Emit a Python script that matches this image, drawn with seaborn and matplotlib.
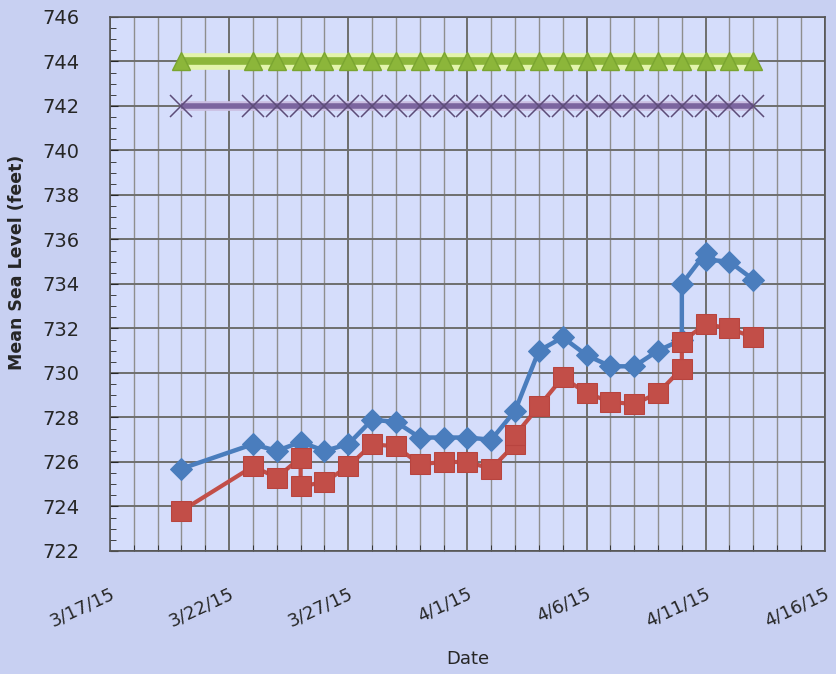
import matplotlib
matplotlib.use('Agg')
import matplotlib.pyplot as plt
import matplotlib.ticker as mticker
import pandas as pd
import seaborn as sns

# lake level readings (feet)
blue_dates = ['3/20', '3/23', '3/24', '3/25', '3/26', '3/27', '3/28', '3/29',
              '3/30', '3/31', '4/1', '4/2', '4/3', '4/4', '4/5', '4/6', '4/7',
              '4/8', '4/9', '4/10', '4/10', '4/11', '4/11', '4/12', '4/13']
blue_level = [725.7, 726.8, 726.5, 726.9, 726.5, 726.8, 727.9, 727.8,
              727.1, 727.1, 727.1, 727.0, 728.3, 731.0, 731.6, 730.8, 730.3,
              730.3, 731.0, 731.5, 734.0, 735.4, 735.1, 735.0, 734.2]

red_dates = ['3/20', '3/23', '3/24', '3/25', '3/25', '3/26', '3/27', '3/28',
             '3/29', '3/30', '3/31', '4/1', '4/2', '4/3', '4/3', '4/4', '4/5',
             '4/6', '4/7', '4/8', '4/9', '4/10', '4/10', '4/11', '4/12', '4/13']
red_level = [723.8, 725.8, 725.3, 726.2, 724.9, 725.1, 725.8, 726.8,
             726.7, 725.9, 726.0, 726.0, 725.7, 726.8, 727.2, 728.5, 729.8,
             729.1, 728.7, 728.6, 729.1, 730.2, 731.4, 732.2, 732.0, 731.6]

limit_dates = ['3/20', '3/23', '3/24', '3/25', '3/26', '3/27', '3/28', '3/29',
               '3/30', '3/31', '4/1', '4/2', '4/3', '4/4', '4/5', '4/6', '4/7',
               '4/8', '4/9', '4/10', '4/11', '4/12', '4/13']
green_level = [744, 744, 744, 744, 744, 744, 744, 744, 744, 744, 744, 744,
               744, 744, 744, 744, 744, 744, 744, 744, 744, 744, 744]
purple_level = [742, 742, 742, 742, 742, 742, 742, 742, 742, 742, 742, 742,
                742, 742, 742, 742, 742, 742, 742, 742, 742, 742, 742]

x_tick_labels = ['3/17/15', '3/22/15', '3/27/15', '4/1/15', '4/6/15',
                 '4/11/15', '4/16/15']
y_ticks = [722, 724, 726, 728, 730, 732, 734, 736, 738, 740, 742, 744, 746]


def to_dates(days):
    return pd.to_datetime([d + '/15' for d in days], format='%m/%d/%y')


sns.set_style('ticks')
plt.rcParams['font.family'] = ['DejaVu Sans']

fig = plt.figure(figsize=(8.36, 6.74), dpi=100, facecolor='#c8d0f2')
ax = fig.add_axes([0.1316, 0.1825, 0.855, 0.7923])
ax.set_facecolor('#d5ddfb')
ax.set_axisbelow(True)

limit_x = to_dates(limit_dates)
# glow under the green line, then the line itself
sns.lineplot(x=limit_x, y=green_level, ax=ax, estimator=None, sort=False,
             color='#e3f4ab', lw=12, solid_capstyle='butt')
sns.lineplot(x=limit_x, y=green_level, ax=ax, estimator=None, sort=False,
             color='#8cb63a', lw=5.5, marker='^', markersize=13,
             markeredgecolor='#7aa530', markeredgewidth=1.0,
             solid_capstyle='butt')
sns.lineplot(x=limit_x, y=purple_level, ax=ax, estimator=None, sort=False,
             color='#cbbfe2', lw=7, solid_capstyle='butt')
sns.lineplot(x=limit_x, y=purple_level, ax=ax, estimator=None, sort=False,
             color='#7b659f', lw=4, marker='x', markersize=16,
             markeredgewidth=1.1, markeredgecolor='#5d4c78',
             solid_capstyle='butt')
sns.lineplot(x=to_dates(blue_dates), y=blue_level, ax=ax, estimator=None,
             sort=False, color='#4a7dbd', lw=3.2, marker='D', markersize=11,
             markeredgecolor='#4a7dbd')
sns.lineplot(x=to_dates(red_dates), y=red_level, ax=ax, estimator=None,
             sort=False, color='#c24e48', lw=3, marker='s', markersize=14,
             markeredgecolor='#b8443f')

ax.set_xlim(to_dates(['3/17'])[0], to_dates(['4/16'])[0])
ax.set_ylim(722, 746)
ax.set_xticks(pd.to_datetime(x_tick_labels, format='%m/%d/%y'))
ax.set_xticklabels(x_tick_labels, rotation=25, ha='right',
                   rotation_mode='anchor', fontsize=13)
ax.xaxis.set_minor_locator(mticker.MultipleLocator(1))
ax.set_yticks(y_ticks)
ax.set_yticklabels([str(v) for v in y_ticks], fontsize=14)
ax.yaxis.set_minor_locator(mticker.MultipleLocator(0.5))

ax.tick_params(axis='x', which='major', direction='in', length=0, pad=24)
ax.tick_params(axis='x', which='minor', direction='in', length=4)
ax.tick_params(axis='y', which='major', direction='in', length=6, pad=22)
ax.tick_params(axis='y', which='minor', direction='in', length=4)

ax.grid(which='major', axis='both', color='#6e6e6e', lw=1.4)
ax.grid(which='minor', axis='x', color='#8e8e8e', lw=1.0)
for s in ax.spines.values():
    s.set_color('#555555')
    s.set_linewidth(1.2)

ax.set_xlabel('Date', fontsize=13, labelpad=14)
ax.set_ylabel('Mean Sea Level (feet)', fontsize=12.5, fontweight='bold')
ax.yaxis.set_label_coords(-0.118, 0.54)

fig.savefig('out.png', dpi=100, facecolor=fig.get_facecolor())
